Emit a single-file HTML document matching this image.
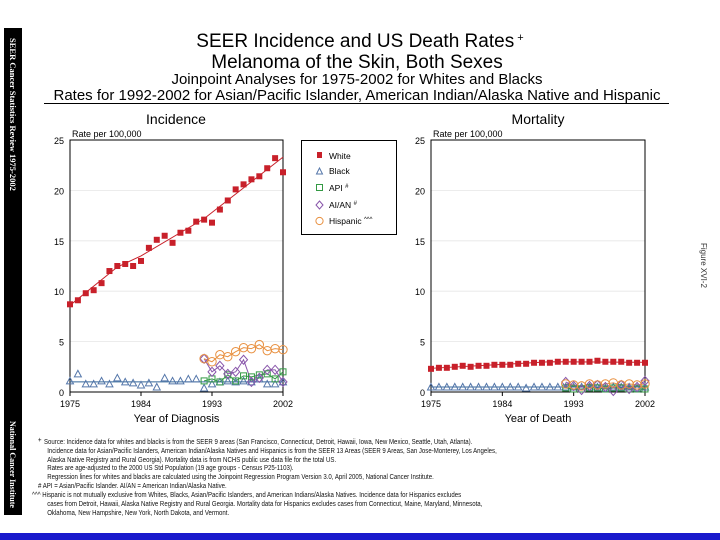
<!DOCTYPE html>
<html><head><meta charset="utf-8"><style>
body{margin:0;background:#fff;}
svg{display:block;font-family:"Liberation Sans",Arial,sans-serif;}
</style></head><body>
<svg width="720" height="540" viewBox="0 0 720 540">
<rect x="4" y="28" width="18" height="487" fill="#000"/>
<text transform="translate(10,38) rotate(90)" font-size="8.5" font-weight="bold" fill="#fff" font-family="Liberation Serif,serif">SEER Cancer Statistics Review 1975-2002</text>
<text transform="translate(10,421) rotate(90)" font-size="8" font-weight="bold" fill="#fff" font-family="Liberation Serif,serif">National Cancer Institute</text>
<text transform="translate(701,243) rotate(90)" font-size="8" fill="#333">Figure XVI-2</text>

<text x="360" y="47" font-size="19" text-anchor="middle">SEER Incidence and US Death Rates<tspan font-size="11" dy="-6"> +</tspan></text>
<text x="357" y="68" font-size="19" text-anchor="middle">Melanoma of the Skin, Both Sexes</text>
<text x="357" y="84" font-size="15" text-anchor="middle">Joinpoint Analyses for 1975-2002 for Whites and Blacks</text>
<text x="357" y="100" font-size="15" text-anchor="middle">Rates for 1992-2002 for Asian/Pacific Islander, American Indian/Alaska Native and Hispanic</text>
<line x1="44" y1="103.5" x2="669" y2="103.5" stroke="#000" stroke-width="1"/>

<text x="176" y="124" font-size="14" text-anchor="middle">Incidence</text>
<text x="538" y="124" font-size="14" text-anchor="middle">Mortality</text>

<g id="left"></g>
<g id="right"></g>

<g>
<rect x="301.5" y="140.5" width="95" height="94" fill="#fff" stroke="#000"/>
<rect x="317" y="152" width="5" height="6" fill="#c8202a"/>
<text x="329" y="159" font-size="8.5">White</text>
<path d="M316.5,174 L319.5,168 L322.5,174 Z" fill="none" stroke="#5577aa"/>
<text x="329" y="174" font-size="8.5">Black</text>
<rect x="316.5" y="184.5" width="6" height="6" fill="none" stroke="#339944"/>
<text x="329" y="191" font-size="8.5">API <tspan font-size="6" dy="-3">#</tspan></text>
<path d="M319.5,201 L323,205 L319.5,209 L316,205 Z" fill="none" stroke="#8855aa"/>
<text x="329" y="208" font-size="8.5">AI/AN <tspan font-size="6" dy="-3">#</tspan></text>
<circle cx="319.5" cy="221" r="3.6" fill="none" stroke="#e89040"/>
<text x="329" y="224" font-size="8.5">Hispanic <tspan font-size="6" dy="-3">^^^</tspan></text>
</g>

<g font-size="7.6" fill="#111" transform="scale(0.8,1)">
<text x="47.5" y="442">+</text>
<text x="55" y="444">Source: Incidence data for whites and blacks is from the SEER 9 areas (San Francisco, Connecticut, Detroit, Hawaii, Iowa, New Mexico, Seattle, Utah, Atlanta).</text>
<text x="59" y="453">Incidence data for Asian/Pacific Islanders, American Indian/Alaska Natives and Hispanics is from the SEER 13 Areas (SEER 9 Areas, San Jose-Monterey, Los Angeles,</text>
<text x="59" y="462">Alaska Native Registry and Rural Georgia).  Mortality data is from NCHS public use data file for the total US.</text>
<text x="59" y="470">Rates are age-adjusted to the 2000 US Std Population (19 age groups - Census P25-1103).</text>
<text x="59" y="479">Regression lines for whites and blacks are calculated using the Joinpoint Regression Program Version 3.0, April 2005, National Cancer Institute.</text>
<text x="47.5" y="488">#  API = Asian/Pacific Islander.  AI/AN = American Indian/Alaska Native.</text>
<text x="40" y="497">^^^ Hispanic is not mutually exclusive from Whites, Blacks, Asian/Pacific Islanders, and American Indians/Alaska Natives.  Incidence data for Hispanics excludes</text>
<text x="59" y="506">cases from Detroit, Hawaii, Alaska Native Registry and Rural Georgia.  Mortality data for Hispanics excludes cases from Connecticut, Maine, Maryland, Minnesota,</text>
<text x="59" y="515">Oklahoma, New Hampshire, New York, North Dakota, and Vermont.</text>
</g>
<rect x="0" y="533" width="720" height="7" fill="#1a1acc"/>
</svg>
<script>
const years = [];for(let y=1975;y<=2002;y++)years.push(y);
const minorYears = [1992,1993,1994,1995,1996,1997,1998,1999,2000,2001,2002];
const xTicks = [1975,1984,1993,2002];
const yTicks = [0,5,10,15,20,25];
// Incidence
const incWhite = [8.7,9.1,9.8,10.1,10.8,12.0,12.5,12.7,12.5,13.0,14.3,15.1,15.5,14.8,15.8,16.0,16.9,17.1,16.8,18.1,19.0,20.1,20.6,21.1,21.4,22.2,23.2,21.8];
const incWhiteFitYears = [1975,1981,1984,1992,2002];
const incWhiteFit = [8.6,12.4,13.5,17.2,23.3];
const incBlack = [1.1,1.8,0.8,0.8,1.1,0.8,1.4,1.0,0.9,0.7,0.9,0.5,1.4,1.1,1.1,1.3,1.3,0.4,0.8,1.0,1.1,1.0,1.1,1.0,1.3,0.8,0.8,1.0];
const incBlackFit = [1.0,1.0];
const incAPI = [1.1,1.3,1.0,1.7,1.1,1.6,1.5,1.7,1.8,1.3,2.0];
const incAIAN = [3.3,2.0,2.6,1.8,2.0,3.2,1.0,1.4,2.2,2.2,1.0];
const incHisp = [3.3,3.0,3.7,3.5,4.0,4.4,4.3,4.7,4.1,4.3,4.2];
// Mortality
const morWhite = [2.3,2.4,2.4,2.5,2.6,2.5,2.6,2.6,2.7,2.7,2.7,2.8,2.8,2.9,2.9,2.9,3.0,3.0,3.0,3.0,3.0,3.1,3.0,3.0,3.0,2.9,2.9,2.9];
const morWhiteFitYears = [1975,1990,2002];
const morWhiteFit = [2.35,3.0,2.95];
const morBlack = [0.5,0.5,0.5,0.5,0.5,0.5,0.5,0.5,0.5,0.5,0.5,0.5,0.4,0.5,0.5,0.5,0.5,0.5,0.5,0.5,0.5,0.5,0.4,0.5,0.5,0.5,0.4,0.5];
const morBlackFit = [0.5,0.5];
const morAPI = [0.4,0.3,0.3,0.4,0.4,0.3,0.4,0.4,0.3,0.3,0.3];
const morAIAN = [1.0,0.6,0.2,0.6,0.7,0.5,0.1,0.7,0.3,0.5,1.1];
const morHisp = [0.8,0.7,0.6,0.8,0.7,0.8,0.9,0.7,0.8,0.7,0.8];

const NS='http://www.w3.org/2000/svg';
function mk(parent,tag,attrs){const e=document.createElementNS(NS,tag);for(const k in attrs)e.setAttribute(k,attrs[k]);parent.appendChild(e);return e;}

function chart(gid,x0,x1,xlabel,d){
  const g=document.getElementById(gid);
  const y0=392,yTop=140;
  const X=yr=>x0+(yr-1975)*(x1-x0)/27;
  const Y=v=>y0-v*(y0-yTop)/25;
  yTicks.forEach(t=>{
    if(t>0&&t<25){const l=mk(g,'line',{x1:x0,x2:x1,y1:Y(t),y2:Y(t),stroke:'#e6e6e6','stroke-width':0.8});
    
    }
    const tx=mk(g,'text',{x:x0-6,y:Y(t)+4,'font-size':9,'text-anchor':'end'});tx.textContent=t;
    
    
  });
  const fr=mk(g,'rect',{x:x0,y:yTop,width:x1-x0,height:y0-yTop,fill:'none',stroke:'#000','stroke-width':1});
  
  
  xTicks.forEach(t=>{
    mk(g,'line',{x1:X(t),x2:X(t),y1:y0,y2:y0+4,stroke:'#000'});
    const tx=mk(g,'text',{x:X(t),y:y0+15,'font-size':9,'text-anchor':'middle'});tx.textContent=t;
    
    
  });
  const rl=mk(g,'text',{x:x0+2,y:yTop-3,'font-size':9});rl.textContent='Rate per 100,000';
  
  
  const xl=mk(g,'text',{x:(x0+x1)/2,y:y0+30,'font-size':11,'text-anchor':'middle'});xl.textContent=xlabel;
  
  
  function line(xs,vs,col,name){const p=mk(g,'polyline',{points:xs.map((x,i)=>X(x)+','+Y(vs[i])).join(' '),fill:'none',stroke:col,'stroke-width':1});
    
    }
  line(d.wfx,d.wf,'#c8202a','white-fit-line');
  line([1975,2002],d.bf,'#336699','black-fit-line');
  line(minorYears,d.api,'#339944','api-line');
  line(minorYears,d.aian,'#8855aa','aian-line');
  line(minorYears,d.hisp,'#e89040','hispanic-line');
  d.w.forEach((v,i)=>{const r=mk(g,'rect',{x:X(years[i])-3,y:Y(v)-3,width:6,height:6,fill:'#c8202a'});
    
    });
  d.b.forEach((v,i)=>{const cx=X(years[i]),cy=Y(v);const p=mk(g,'path',{d:`M${cx-3.5},${cy+3} L${cx},${cy-3.5} L${cx+3.5},${cy+3} Z`,fill:'none',stroke:'#5577aa'});
    
    });
  d.api.forEach((v,i)=>{const r=mk(g,'rect',{x:X(minorYears[i])-3,y:Y(v)-3,width:6,height:6,fill:'none',stroke:'#339944'});
    
    });
  d.aian.forEach((v,i)=>{const cx=X(minorYears[i]),cy=Y(v);const p=mk(g,'path',{d:`M${cx},${cy-4.5} L${cx+4},${cy} L${cx},${cy+4.5} L${cx-4},${cy} Z`,fill:'none',stroke:'#8855aa'});
    
    });
  d.hisp.forEach((v,i)=>{const c=mk(g,'circle',{cx:X(minorYears[i]),cy:Y(v),r:4.2,fill:'none',stroke:'#e89040'});
    
    });
}
chart('left',70,283,'Year of Diagnosis',{w:incWhite,wfx:incWhiteFitYears,wf:incWhiteFit,b:incBlack,bf:incBlackFit,api:incAPI,aian:incAIAN,hisp:incHisp});
chart('right',431,645,'Year of Death',{w:morWhite,wfx:morWhiteFitYears,wf:morWhiteFit,b:morBlack,bf:morBlackFit,api:morAPI,aian:morAIAN,hisp:morHisp});
</script>
</body></html>
